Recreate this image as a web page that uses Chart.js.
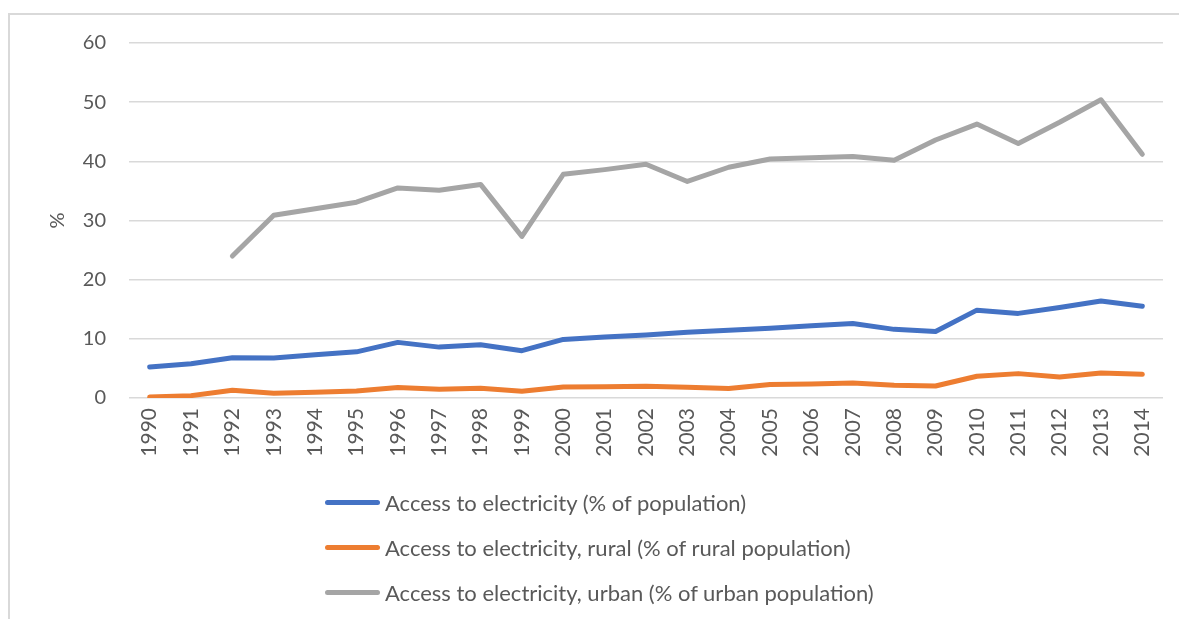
<!DOCTYPE html>
<html><head><meta charset="utf-8">
<script src="https://cdn.jsdelivr.net/npm/chart.js@4.4.0/dist/chart.umd.min.js"></script>
<style>
html,body{margin:0;padding:0;background:#fff;overflow:hidden;}
#wrap{position:relative;width:1179px;height:619px;overflow:hidden;}
#frame{position:absolute;left:8px;top:13px;width:1300px;height:800px;border-left:2px solid #d9d9d9;border-top:2px solid #d9d9d9;box-sizing:border-box;}
canvas{position:absolute;left:0;top:0;}
#legend{position:absolute;left:325px;top:0;font-family:Lato,"Open Sans",sans-serif;font-size:22px;color:#595959;}
.item{position:absolute;left:0;white-space:nowrap;display:flex;align-items:center;height:30px;}
.swatch{width:55px;height:5px;border-radius:3px;margin-right:5px;}
</style>
</head><body>
<div id="wrap">
<div id="frame"></div>
<canvas id="c" width="1179" height="619"></canvas>
<div id="legend"></div>
</div>
<script>
const years = ["1990","1991","1992","1993","1994","1995","1996","1997","1998","1999","2000","2001","2002","2003","2004","2005","2006","2007","2008","2009","2010","2011","2012","2013","2014"];
const totalAccess = [5.25,5.8,6.8,6.75,7.3,7.8,9.4,8.6,9.0,8.0,9.9,10.3,10.65,11.1,11.45,11.8,12.2,12.6,11.6,11.25,14.85,14.3,15.3,16.4,15.5];
const ruralAccess = [0.17,0.4,1.3,0.8,0.96,1.2,1.78,1.47,1.64,1.13,1.86,1.9,1.98,1.8,1.6,2.3,2.37,2.54,2.15,2.03,3.67,4.12,3.55,4.23,4.0];
const urbanAccess = [null,null,24.0,30.9,32.0,33.1,35.5,35.1,36.1,27.3,37.8,38.6,39.5,36.6,39.0,40.4,40.6,40.8,40.2,43.6,46.3,43.0,46.6,50.4,41.2];
const seriesNames = ["Access to electricity (% of population)","Access to electricity, rural (% of rural population)","Access to electricity, urban (% of urban population)"];
const seriesColors = ["#4472C4","#ED7D31","#A5A5A5"];
const yTicks = [0,10,20,30,40,50,60];

const FONT = "Lato";
const TXT = "#595959";
function ds(label, data, color){
  return {label, data, borderColor: color, backgroundColor: color, borderWidth: 5,
    pointRadius: 0, pointHoverRadius: 0, tension: 0, fill: false,
    borderCapStyle: 'round', borderJoinStyle: 'round', spanGaps: false};
}
const chart = new Chart(document.getElementById('c'), {
  type: 'line',
  data: {labels: years, datasets: [
    ds(seriesNames[0], totalAccess, seriesColors[0]),
    ds(seriesNames[1], ruralAccess, seriesColors[1]),
    ds(seriesNames[2], urbanAccess, seriesColors[2])
  ]},
  options: {
    responsive: false, animation: false, devicePixelRatio: 1,
    layout: {padding: {left: 40, top: 43, right: 16, bottom: 141}},
    plugins: {legend: {display: false}, tooltip: {enabled: false}},
    scales: {
      y: {
        min: yTicks[0], max: yTicks[yTicks.length-1],
        afterBuildTicks: s => { s.ticks = yTicks.map(v => ({value: v})); },
        ticks: {color: TXT, font: {family: FONT, size: 20}, padding: 23},
        grid: {color: '#d9d9d9', lineWidth: 1.5, drawTicks: false},
        border: {display: false},
        title: {display: true, text: '%', color: TXT, font: {family: FONT, size: 20}, padding: {top: 6, bottom: 0}},
        afterFit: s => { s.width = 89; }
      },
      x: {
        offset: true,
        grid: {display: false, drawTicks: false},
        border: {display: false},
        ticks: {color: TXT, font: {family: FONT, size: 21}, minRotation: 90, maxRotation: 90, padding: 10, autoSkip: false},
        afterFit: s => { s.height = 80; }
      }
    }
  }
});

const leg = document.getElementById('legend');
const centers = [502, 547, 592];
chart.data.datasets.forEach((d, i) => {
  const it = document.createElement('div');
  it.className = 'item';
  it.style.top = (centers[i] - 15) + 'px';
  const sw = document.createElement('span');
  sw.className = 'swatch'; sw.style.background = d.borderColor;
  const tx = document.createElement('span');
  tx.textContent = d.label;
  it.appendChild(sw); it.appendChild(tx);
  leg.appendChild(it);
});
</script>
</body></html>
